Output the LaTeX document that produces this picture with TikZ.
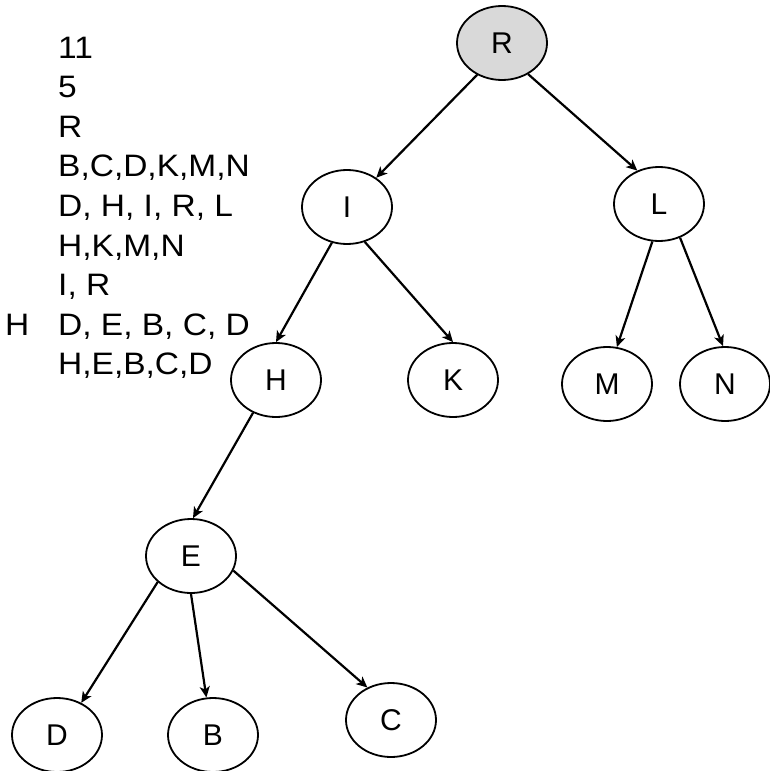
\documentclass[tikz,border=0pt]{standalone}
\usepackage{fontspec}
\setmainfont{Liberation Sans}
\usetikzlibrary{shapes.geometric,arrows.meta}
\definecolor{rootfill}{RGB}{217,217,217}
\tikzset{
  tnode/.style={draw, ellipse, line width=1.8pt, minimum width=90pt, minimum height=74pt, inner sep=0pt, font=\fontsize{30}{30}\selectfont},
  edge/.style={line width=2.2pt, -{Stealth[length=11pt,width=10pt,inset=3pt]}},
  listtext/.style={anchor=base west, inner sep=0pt, font=\fontsize{31}{31}\selectfont}
}
\newcommand{\wide}[1]{\scalebox{1.08}[1]{#1}}
\begin{document}
\begin{tikzpicture}[x=1pt,y=-1pt]
\useasboundingbox (0,0) rectangle (769,771);
% tree nodes
\node[tnode, fill=rootfill] (R) at (502,43) {R};
\node[tnode] (I) at (347,207) {I};
\node[tnode] (L) at (659,204) {L};
\node[tnode] (H) at (276,380) {H};
\node[tnode] (K) at (453,380) {K};
\node[tnode] (M) at (607,384) {M};
\node[tnode] (N) at (725,384) {N};
\node[tnode] (E) at (191,556) {E};
\node[tnode] (D) at (57,735) {D};
\node[tnode] (B) at (213,735) {B};
\node[tnode] (C) at (391,720) {C};
% edges
\draw[edge] (R.232) -- (I.45);
\draw[edge] (R.310) -- (L.123);
\draw[edge] (I.247) -- (H.90);
\draw[edge] (I.297) -- (K.90);
\draw[edge] (L.260) -- (M.75);
\draw[edge] (L.302) -- (N.93);
\draw[edge] (H.235) -- (E.87);
\draw[edge] (E.218) -- (D.53);
\draw[edge] (E.270) -- (B.100);
\draw[edge] (E.341) -- (C.126);
% list text
\node[listtext] (t1) at (58,58) {\wide{11}};
\node[listtext] (t2) at (58,97.6) {\wide{5}};
\node[listtext] (t3) at (58,137.2) {\wide{R}};
\node[listtext] (t4) at (58,176.8) {\wide{B,C,D,K,M,N}};
\node[listtext] (t5) at (58,216.4) {\wide{D, H, I, R, L}};
\node[listtext] (t6) at (58,256) {\wide{H,K,M,N}};
\node[listtext] (t7) at (58,295.6) {\wide{I, R}};
\node[listtext] (t8) at (58,335.2) {\wide{D, E, B, C, D}};
\node[listtext] (t9) at (58,374.8) {\wide{H,E,B,C,D}};
\node[listtext] (th) at (5,335.2) {\wide{H}};
\end{tikzpicture}
\end{document}
